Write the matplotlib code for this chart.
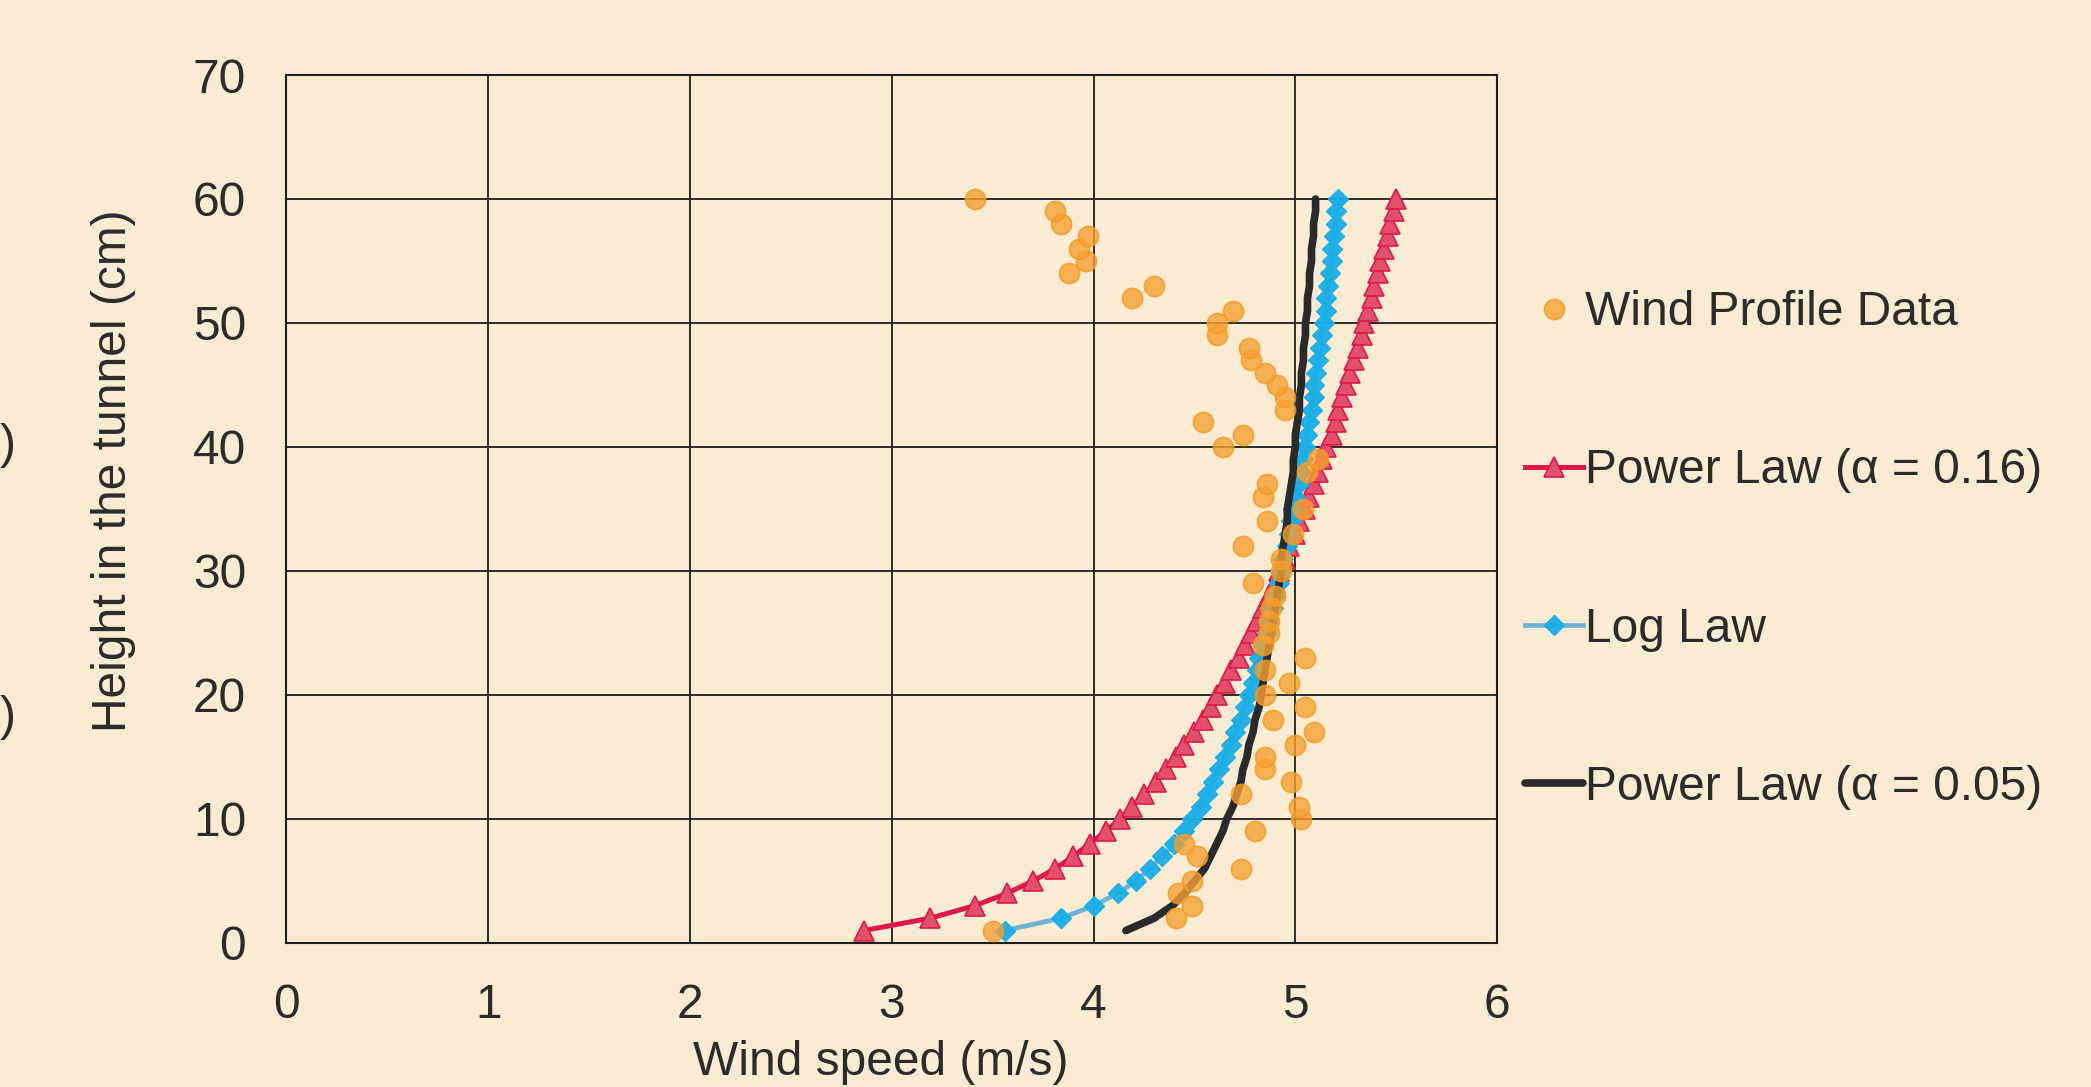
import matplotlib
matplotlib.use("Agg")
import matplotlib.pyplot as plt

plt.rcParams['font.family'] = ['Liberation Sans', 'DejaVu Sans']

# heights in the tunnel (cm)
heights = list(range(1, 61))

# measured wind profile (m/s), one reading per cm
measured = [3.50, 4.41, 4.49, 4.42, 4.49, 4.73, 4.51, 4.45, 4.80, 5.03,
            5.02, 4.73, 4.98, 4.85, 4.85, 5.00, 5.09, 4.89, 5.05, 4.85,
            4.97, 4.85, 5.05, 4.84, 4.87, 4.87, 4.88, 4.90, 4.79, 4.93,
            4.93, 4.74, 4.99, 4.86, 5.04, 4.84, 4.86, 5.06, 5.11, 4.64,
            4.74, 4.54, 4.95, 4.95, 4.91, 4.85, 4.78, 4.77, 4.61, 4.61,
            4.69, 4.19, 4.30, 3.88, 3.96, 3.93, 3.97, 3.84, 3.81, 3.41]

power_016 = [2.86, 3.19, 3.41, 3.57, 3.70, 3.81, 3.90, 3.98, 4.06, 4.13,
             4.19, 4.25, 4.31, 4.36, 4.41, 4.45, 4.50, 4.54, 4.58, 4.61,
             4.65, 4.68, 4.72, 4.75, 4.78, 4.81, 4.84, 4.87, 4.90, 4.92,
             4.95, 4.97, 5.00, 5.02, 5.05, 5.07, 5.09, 5.11, 5.13, 5.15,
             5.18, 5.20, 5.21, 5.23, 5.25, 5.27, 5.29, 5.31, 5.33, 5.34,
             5.36, 5.38, 5.39, 5.41, 5.42, 5.44, 5.46, 5.47, 5.49, 5.50]

log_law = [3.56, 3.84, 4.00, 4.12, 4.21, 4.28, 4.34, 4.40, 4.45, 4.49,
           4.53, 4.56, 4.59, 4.62, 4.65, 4.68, 4.70, 4.73, 4.75, 4.77,
           4.79, 4.81, 4.82, 4.84, 4.86, 4.87, 4.89, 4.90, 4.92, 4.93,
           4.94, 4.96, 4.97, 4.98, 4.99, 5.00, 5.02, 5.03, 5.04, 5.05,
           5.06, 5.07, 5.08, 5.09, 5.09, 5.10, 5.11, 5.12, 5.13, 5.14,
           5.15, 5.15, 5.16, 5.17, 5.18, 5.18, 5.19, 5.20, 5.20, 5.21]

power_005 = [4.16, 4.30, 4.39, 4.45, 4.50, 4.55, 4.58, 4.61, 4.64, 4.66,
             4.69, 4.71, 4.73, 4.74, 4.76, 4.77, 4.79, 4.80, 4.82, 4.83,
             4.84, 4.85, 4.86, 4.87, 4.88, 4.89, 4.90, 4.91, 4.92, 4.93,
             4.93, 4.94, 4.95, 4.96, 4.96, 4.97, 4.98, 4.99, 4.99, 5.00,
             5.00, 5.01, 5.02, 5.02, 5.03, 5.03, 5.04, 5.04, 5.05, 5.05,
             5.06, 5.06, 5.07, 5.07, 5.08, 5.08, 5.09, 5.09, 5.10, 5.10]

bg = '#FAECD3'
txt = '#2B2B2B'
fs = 34.5

fig = plt.figure(figsize=(20.91, 10.87), dpi=100, facecolor=bg)
ax = fig.add_axes([0.137, 0.1325, 0.579, 0.7985])
ax.set_facecolor(bg)

ax.plot(power_016, heights, color='#DF1747', lw=3.6, marker='^', ms=14.5,
        mfc='#E2506C', mec='#DC1A48', mew=1.2, label='Power Law (α = 0.16)', zorder=3, clip_on=False)
ax.plot(log_law, heights, color='#67AFD3', lw=3.4, marker='D', ms=10.2,
        mfc='#1AAEE8', mec='#1AAEE8', alpha=0.95, label='Log Law', zorder=4, clip_on=False)
ax.plot(power_005, heights, color='#2A2A2D', lw=5.5, solid_capstyle='round',
        label='Power Law (α = 0.05)', zorder=5)
ax.plot(measured, heights, ls='none', marker='o', ms=14.5, mfc='#F6A032',
        mec='#F39A1E', mew=1.2, alpha=0.8, label='Wind Profile Data', zorder=6)

ax.set_xlim(0, 6)
ax.set_ylim(0, 70)
ax.set_xticks(range(0, 7))
ax.set_yticks(range(0, 71, 10))
ax.grid(True, color='#1E1E1E', lw=1.3)
ax.set_axisbelow(True)
for s in ax.spines.values():
    s.set_color('#1E1E1E')
    s.set_linewidth(1.5)
ax.tick_params(length=0, labelsize=fs, labelcolor=txt, pad=29)

ax.set_xlabel('Wind speed (m/s)', fontsize=fs, color=txt)
ax.xaxis.set_label_coords(0.491, -0.112)
fig.text(113 / 2091, 1 - 471 / 1087, 'Height in the tunnel (cm)', rotation=90,
         ha='center', va='center', fontsize=fs, color=txt)

# clipped text fragments at the left edge
fig.text(0.0, 1 - 445 / 1087, ')', ha='left', va='center', fontsize=fs, color=txt)
fig.text(0.0, 1 - 717 / 1087, ')', ha='left', va='center', fontsize=fs, color=txt)

h, l = ax.get_legend_handles_labels()
order = [3, 0, 1, 2]
leg = ax.legend([h[i] for i in order], [l[i] for i in order], loc='center left',
                bbox_to_anchor=(0.718, 0.494), bbox_transform=fig.transFigure,
                frameon=False, fontsize=fs, labelcolor=txt, borderpad=0,
                handlelength=1.2, handletextpad=0.05, labelspacing=2.36)

fig.savefig('out.png', dpi=100, facecolor=bg)
